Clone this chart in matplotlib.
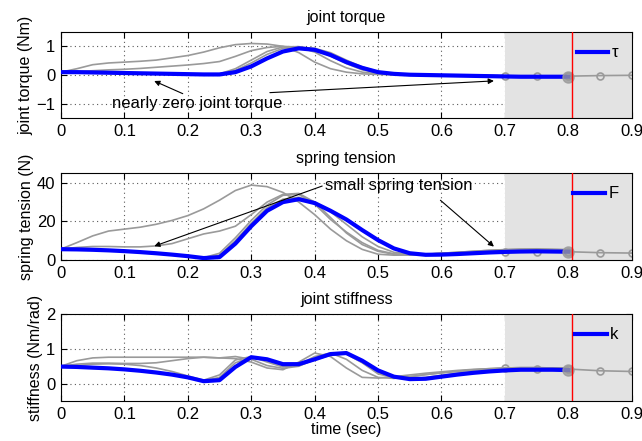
import matplotlib
matplotlib.use("Agg")
import matplotlib.pyplot as plt

plt.rcParams["font.family"] = ["Liberation Sans", "DejaVu Sans"]
plt.rcParams["font.size"] = 11.5

# time grid (sec)
t = [0.0, 0.025, 0.05, 0.075, 0.1, 0.125, 0.15, 0.175, 0.2, 0.225, 0.25,
     0.275, 0.3, 0.325, 0.35, 0.375, 0.4, 0.425, 0.45, 0.475, 0.5, 0.525,
     0.55, 0.575, 0.6, 0.625, 0.65, 0.675, 0.7, 0.725, 0.75, 0.775, 0.8]
t_pred = [0.7, 0.75, 0.8, 0.85, 0.9]

# joint torque (Nm)
tau = [0.10, 0.10, 0.09, 0.08, 0.07, 0.06, 0.05, 0.04, 0.03, 0.02, 0.02,
       0.10, 0.30, 0.58, 0.82, 0.93, 0.88, 0.70, 0.45, 0.25, 0.10, 0.04,
       0.01, 0.0, -0.01, -0.02, -0.03, -0.04, -0.05, -0.06, -0.06, -0.06, -0.06]
tau_gray = [
    [0.10, 0.22, 0.36, 0.42, 0.45, 0.48, 0.52, 0.60, 0.68, 0.80, 0.95,
     1.06, 1.10, 1.08, 1.00, 0.78, 0.45, 0.22, 0.10, 0.04, 0.02, 0.01,
     0.0, 0.0, -0.01, -0.01, -0.02, -0.02, -0.03, -0.03, -0.03, -0.03, -0.03],
    [0.10, 0.12, 0.15, 0.18, 0.20, 0.23, 0.27, 0.31, 0.35, 0.40, 0.47,
     0.65, 0.85, 0.96, 1.00, 0.97, 0.80, 0.50, 0.25, 0.10, 0.04, 0.02,
     0.01, 0.0, 0.0, -0.01, -0.02, -0.02, -0.03, -0.03, -0.03, -0.03, -0.03],
    [0.10, 0.10, 0.09, 0.08, 0.07, 0.06, 0.05, 0.05, 0.04, 0.03, 0.04,
     0.22, 0.52, 0.82, 0.98, 0.99, 0.90, 0.66, 0.40, 0.18, 0.07, 0.03,
     0.01, 0.0, -0.01, -0.02, -0.02, -0.03, -0.04, -0.04, -0.04, -0.04, -0.04],
    [0.10, 0.10, 0.09, 0.08, 0.07, 0.06, 0.05, 0.04, 0.03, 0.02, 0.03,
     0.16, 0.42, 0.72, 0.93, 0.97, 0.93, 0.78, 0.52, 0.28, 0.12, 0.05,
     0.02, 0.0, -0.01, -0.02, -0.03, -0.04, -0.05, -0.05, -0.05, -0.05, -0.05],
]
tau_pred = [-0.03, -0.04, -0.04, -0.02, -0.01]

# spring tension (N)
F = [5.6, 5.5, 5.3, 5.0, 4.6, 4.1, 3.5, 2.8, 2.0, 1.0, 1.5,
     8.5, 17.5, 25.5, 30.0, 31.5, 29.5, 25.5, 21.0, 15.5, 10.3, 6.0,
     3.5, 2.7, 2.8, 3.1, 3.5, 3.9, 4.2, 4.4, 4.5, 4.4, 4.3]
F_gray = [
    [5.7, 9.0, 12.5, 15.0, 16.0, 17.0, 18.5, 20.5, 23.0, 26.5, 31.0,
     36.0, 38.8, 38.0, 35.0, 30.0, 23.5, 16.0, 10.0, 5.5, 3.0, 2.5,
     2.6, 3.0, 3.5, 4.0, 4.5, 5.0, 5.3, 5.5, 5.5, 5.4, 5.2],
    [5.7, 6.5, 7.0, 7.0, 6.8, 6.8, 7.3, 8.5, 11.0, 13.5, 15.0,
     17.5, 23.5, 30.0, 34.0, 34.5, 30.0, 22.0, 14.0, 8.0, 4.5, 3.0,
     2.8, 3.0, 3.5, 4.0, 4.5, 5.0, 5.4, 5.7, 5.8, 5.6, 5.4],
    [5.6, 5.5, 5.3, 5.0, 4.6, 4.1, 3.5, 2.8, 2.0, 1.2, 3.5,
     11.5, 20.5, 28.5, 33.5, 34.0, 29.0, 21.0, 14.5, 9.0, 5.0, 3.2,
     2.8, 3.0, 3.4, 3.8, 4.3, 4.7, 5.0, 5.2, 5.2, 5.0, 4.8],
    [5.6, 5.5, 5.3, 5.0, 4.6, 4.1, 3.5, 2.8, 2.0, 1.0, 2.5,
     10.0, 19.0, 27.0, 31.5, 32.5, 30.0, 25.0, 18.5, 12.0, 7.0, 4.0,
     3.0, 2.9, 3.1, 3.4, 3.8, 4.2, 4.6, 4.8, 4.8, 4.7, 4.5],
]
F_pred = [4.2, 4.3, 4.3, 3.8, 3.6]

# joint stiffness (Nm/rad)
k = [0.49, 0.48, 0.46, 0.44, 0.41, 0.37, 0.32, 0.26, 0.18, 0.07, 0.10,
     0.48, 0.76, 0.70, 0.56, 0.56, 0.70, 0.85, 0.88, 0.66, 0.38, 0.20,
     0.13, 0.14, 0.20, 0.26, 0.31, 0.35, 0.38, 0.40, 0.40, 0.40, 0.39]
k_gray = [
    [0.50, 0.66, 0.74, 0.76, 0.76, 0.76, 0.76, 0.76, 0.76, 0.76, 0.74,
     0.72, 0.62, 0.45, 0.40, 0.62, 0.88, 0.78, 0.45, 0.18, 0.16, 0.20,
     0.25, 0.30, 0.34, 0.38, 0.41, 0.43, 0.45, 0.46, 0.46, 0.45, 0.45],
    [0.50, 0.56, 0.59, 0.59, 0.58, 0.58, 0.60, 0.66, 0.72, 0.76, 0.74,
     0.78, 0.70, 0.52, 0.44, 0.50, 0.70, 0.86, 0.85, 0.60, 0.28, 0.17,
     0.20, 0.26, 0.31, 0.35, 0.39, 0.42, 0.44, 0.45, 0.45, 0.44, 0.43],
    [0.49, 0.52, 0.56, 0.57, 0.56, 0.52, 0.45, 0.35, 0.22, 0.10, 0.25,
     0.68, 0.78, 0.62, 0.48, 0.55, 0.78, 0.88, 0.70, 0.38, 0.18, 0.15,
     0.20, 0.26, 0.31, 0.36, 0.40, 0.43, 0.45, 0.46, 0.46, 0.45, 0.44],
    [0.49, 0.48, 0.46, 0.44, 0.41, 0.37, 0.32, 0.26, 0.18, 0.08, 0.18,
     0.60, 0.75, 0.66, 0.52, 0.52, 0.68, 0.82, 0.86, 0.62, 0.32, 0.17,
     0.14, 0.18, 0.24, 0.30, 0.35, 0.39, 0.42, 0.44, 0.44, 0.43, 0.42],
]
k_pred = [0.46, 0.41, 0.42, 0.37, 0.35]

panels = [
    ("joint torque", "joint torque (Nm)", tau, tau_gray, tau_pred, "τ", (-1.5, 1.5), [-1, 0, 1]),
    ("spring tension", "spring tension (N)", F, F_gray, F_pred, "F", (0, 45), [0, 20, 40]),
    ("joint stiffness", "stiffness (Nm/rad)", k, k_gray, k_pred, "k", (-0.5, 2), [0, 1, 2]),
]

fig = plt.figure(figsize=(6.42, 4.41), dpi=100)
boxes = [[0.095, 0.7324, 0.889, 0.195],
         [0.095, 0.4104, 0.889, 0.197],
         [0.095, 0.0907, 0.889, 0.197]]
gray = "#9a9a9a"
axes = []
for box, (title, ylabel, y, ygray, ypred, lab, ylim, yt) in zip(boxes, panels):
    ax = fig.add_axes(box)
    ax.set_axisbelow(True)
    ax.grid(True, linestyle=(0, (1, 3)), color="0.35", linewidth=0.8)
    ax.axvspan(0.7, 0.9, color="#e3e3e3", zorder=1, lw=0)
    for g in ygray:
        ax.plot(t, g, color=gray, lw=1.2, zorder=2)
    ax.plot(t_pred, ypred, color=gray, lw=1.2, marker="o", ms=5,
            mfc="none", mec=gray, mew=1.2, zorder=2)
    ax.plot(t[-1], y[-1], "o", ms=8, color=gray, alpha=0.8, zorder=4)
    ax.plot(t, y, color="blue", lw=3.0, label=lab, zorder=3)
    ax.axvline(0.806, color="red", lw=1.0, zorder=5)
    ax.set_xlim(0, 0.9)
    ax.set_ylim(*ylim)
    ax.set_yticks(yt)
    ax.set_xticks([0, 0.1, 0.2, 0.3, 0.4, 0.5, 0.6, 0.7, 0.8, 0.9])
    ax.set_xticklabels(["0", "0.1", "0.2", "0.3", "0.4", "0.5", "0.6", "0.7", "0.8", "0.9"])
    ax.tick_params(direction="in", top=True, right=True, length=4, pad=4,
                   labelsize=12)
    ax.set_title(title, fontsize=11.5, pad=7)
    ax.set_ylabel(ylabel, fontsize=11.5, labelpad=2)
    ax.legend(loc="upper right", frameon=False, handlelength=1.9,
              handletextpad=0.2, borderaxespad=0.4, fontsize=12)
    axes.append(ax)

axes[2].set_xlabel("time (sec)", fontsize=11.5, labelpad=0)

arrow = dict(arrowstyle="-|>", color="k", lw=0.8, mutation_scale=8)
ax = axes[0]
ax.text(0.215, -1.0, "nearly zero joint torque", ha="center", va="center", fontsize=12)
ax.annotate("", xy=(0.143, -0.17), xytext=(0.196, -0.69), arrowprops=arrow)
ax.annotate("", xy=(0.687, -0.2), xytext=(0.325, -0.62), arrowprops=arrow)

ax = axes[1]
ax.text(0.533, 38.8, "small spring tension", ha="center", va="center", fontsize=12)
ax.annotate("", xy=(0.143, 6.7), xytext=(0.416, 38.8), arrowprops=arrow)
ax.annotate("", xy=(0.686, 6.0), xytext=(0.595, 31.9), arrowprops=arrow)

fig.savefig("out.png", dpi=100)
